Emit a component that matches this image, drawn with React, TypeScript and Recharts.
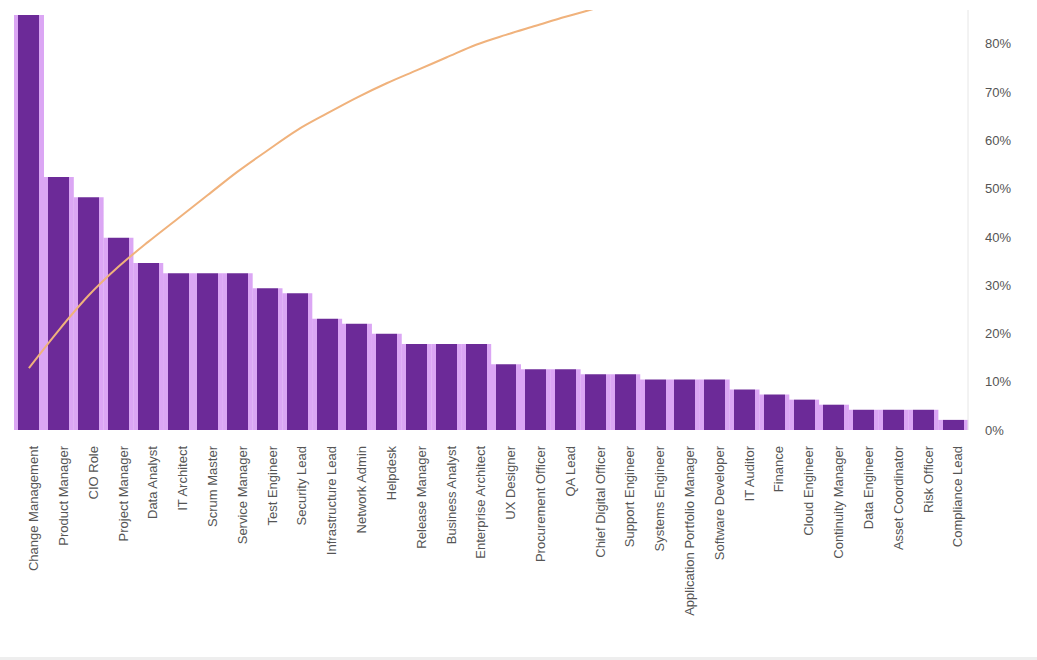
import React from "react";
import { ComposedChart, Bar, Line, XAxis, YAxis } from "recharts";

const categories = [
  "Change Management", "Product Manager", "CIO Role", "Project Manager",
  "Data Analyst", "IT Architect", "Scrum Master", "Service Manager",
  "Test Engineer", "Security Lead", "Infrastructure Lead", "Network Admin",
  "Helpdesk", "Release Manager", "Business Analyst", "Enterprise Architect",
  "UX Designer", "Procurement Officer", "QA Lead", "Chief Digital Officer",
  "Support Engineer", "Systems Engineer", "Application Portfolio Manager",
  "Software Developer", "IT Auditor", "Finance", "Cloud Engineer",
  "Continuity Manager", "Data Engineer", "Asset Coordinator", "Risk Officer",
  "Compliance Lead",
];

const counts = [
  82, 50, 46, 38, 33, 31, 31, 31, 28, 27, 22, 21, 19, 17, 17, 17,
  13, 12, 12, 11, 11, 10, 10, 10, 8, 7, 6, 5, 4, 4, 4, 2,
];

const percentTicks = [0, 0.1, 0.2, 0.3, 0.4, 0.5, 0.6, 0.7, 0.8];

const total = counts.reduce((a, b) => a + b, 0);
let running = 0;
const data = categories.map((name, i) => {
  running += counts[i];
  return { name, count: counts[i], cumulative: running / total };
});

const LIGHT = "#dba6f4";
const DARK = "#6c2a98";

export default function App() {
  return (
    <div style={{ position: "absolute", left: 0, top: 0, width: 1037, height: 660, background: "#fff" }}>
      <div style={{ borderBottom: "3px solid #eeeeee", height: 657 }}>
        <ComposedChart
          width={1037}
          height={657}
          data={data}
          margin={{ top: 10, right: 0, bottom: 0, left: 14 }}
          barCategoryGap={0}
          barGap={0}
        >
          <defs>
            <linearGradient id="barFill" x1="0" y1="0" x2="1" y2="0">
              <stop offset="0" stopColor={LIGHT} />
              <stop offset="0.15" stopColor={LIGHT} />
              <stop offset="0.15" stopColor={DARK} />
              <stop offset="0.85" stopColor={DARK} />
              <stop offset="0.85" stopColor={LIGHT} />
              <stop offset="1" stopColor={LIGHT} />
            </linearGradient>
          </defs>
          <XAxis
            dataKey="name"
            interval={0}
            height={227}
            axisLine={false}
            tickLine={false}
            angle={-90}
            textAnchor="end"
            tickMargin={14}
            tick={{ fontSize: 13, fill: "#555", fontFamily: "Liberation Sans, Arial, sans-serif", dy: -4 } as any}
          />
          <YAxis yAxisId="left" hide domain={[0, 83]} />
          <YAxis
            yAxisId="right"
            orientation="right"
            width={69}
            domain={[0, 0.87]}
            allowDataOverflow
            ticks={percentTicks}
            tickFormatter={(v: number) => `${Math.round(v * 100)}%`}
            axisLine={{ stroke: "#e6e6e6" }}
            tickLine={false}
            tickSize={0}
            tickMargin={17}
            tick={{ fontSize: 13, fill: "#555", fontFamily: "Liberation Sans, Arial, sans-serif" }}
          />
          <Bar yAxisId="left" dataKey="count" fill="url(#barFill)" isAnimationActive={false} />
          <Line
            yAxisId="right"
            dataKey="cumulative"
            type="monotone"
            stroke="#f0b27c"
            strokeWidth={2}
            dot={false}
            isAnimationActive={false}
          />
        </ComposedChart>
      </div>
    </div>
  );
}
